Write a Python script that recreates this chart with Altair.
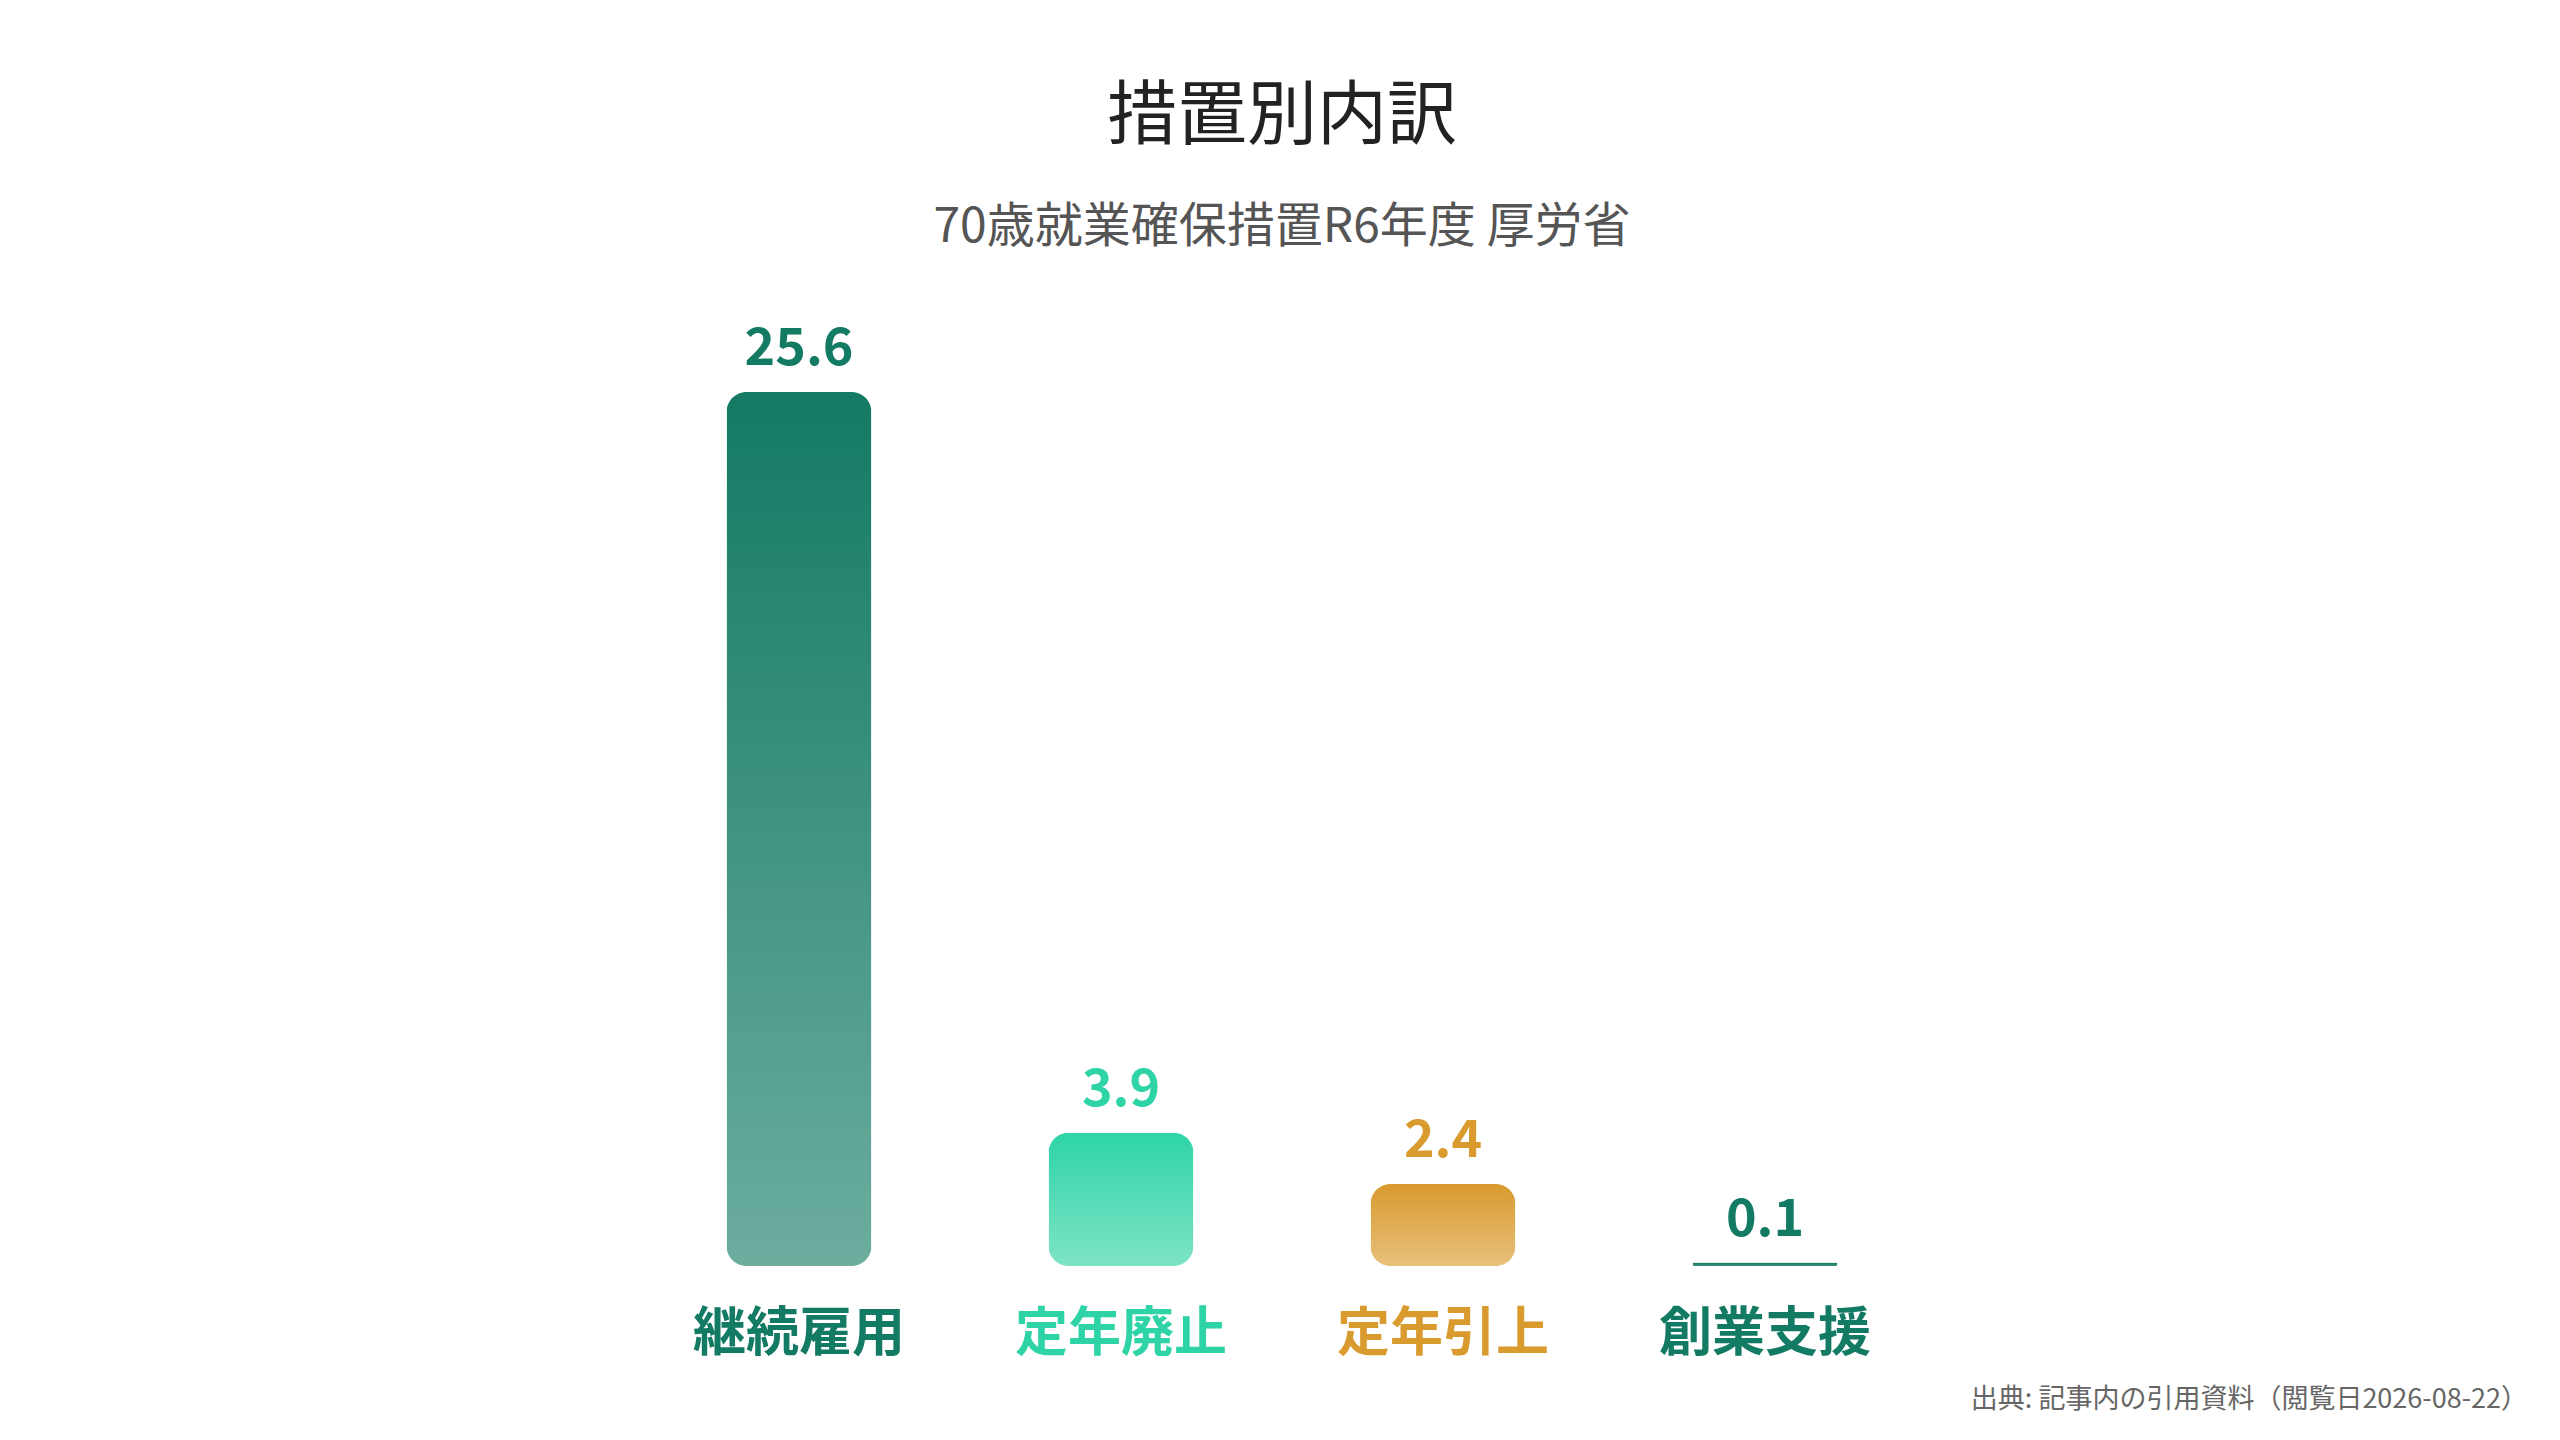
import altair as alt
import pandas as pd

categories = ["継続雇用", "定年廃止", "定年引上", "創業支援"]
values = [25.6, 3.9, 2.4, 0.1]
top_colors = ["#137a63", "#2ed4a6", "#d99a2e", "#137a63"]
bottom_colors = ["#6cad9e", "#7ee3c6", "#e7c07c", "#3f927f"]
label_colors = ["#137a63", "#2ed4a6", "#d99a2e", "#137a63"]
title_text = "措置別内訳"
subtitle_text = "70歳就業確保措置R6年度 厚労省"
footnote_text = "出典: 記事内の引用資料（閲覧日2026-08-22）"

FONT = "Noto Sans CJK JP"

df = pd.DataFrame({"category": categories, "value": values})

label_color_cond = {
    "condition": [
        {"test": f"datum.value === '{c}'", "value": col}
        for c, col in zip(categories, label_colors)
    ],
    "value": label_colors[0],
}

x_enc = alt.X(
    "category:N",
    sort=categories,
    scale=alt.Scale(domain=categories, paddingInner=0.55, paddingOuter=0.275),
    axis=alt.Axis(
        title=None,
        domain=False,
        ticks=False,
        tickSize=0,
        grid=False,
        labelAngle=0,
        labelFont=FONT,
        labelFontSize=53,
        labelFontWeight="bold",
        labelPadding=42,
        labelLimit=0,
        labelColor=label_color_cond,
        labelBaseline="top",
    ),
)
y_enc = alt.Y("value:Q", scale=alt.Scale(domain=[0, 28]), axis=None)

base = alt.Chart(df)

layers = []
for cat, tc, bc in zip(categories, top_colors, bottom_colors):
    grad = alt.Gradient(
        gradient="linear",
        stops=[alt.GradientStop(color=tc, offset=0), alt.GradientStop(color=bc, offset=1)],
        x1=0, x2=0, y1=0, y2=1,
    )
    layers.append(
        base.transform_filter(alt.datum.category == cat)
        .mark_bar(color=grad, cornerRadius=20)
        .encode(x=x_enc, y=y_enc)
    )

text_layer = base.mark_text(
    font=FONT, fontSize=52, fontWeight="bold", baseline="alphabetic", dy=-27
).encode(
    x=x_enc,
    y=y_enc,
    text=alt.Text("value:Q", format=".1f"),
    color=alt.Color("category:N", scale=alt.Scale(domain=categories, range=label_colors), legend=None),
)
layers.append(text_layer)

foot = alt.Chart(pd.DataFrame({"text": [footnote_text]})).mark_text(
    font=FONT, fontSize=27, color="#666666", align="right", baseline="middle"
).encode(x=alt.value(1890), y=alt.value(1090), text="text:N")
layers.append(foot)

chart = alt.layer(*layers).properties(
    width=1288,
    height=956,
    autosize=alt.AutoSizeParams(type="none"),
    padding={"left": 630, "right": 626, "top": 302, "bottom": 166},
    background="white",
    title=alt.TitleParams(
        text=title_text,
        subtitle=subtitle_text,
        anchor="middle",
        font=FONT,
        fontSize=70,
        fontWeight="normal",
        color="#222222",
        subtitleFont=FONT,
        subtitleFontSize=48,
        subtitleColor="#555555",
        subtitlePadding=50,
        offset=57,
    ),
).configure_view(stroke=None)

chart.save("out.html", embed_options={"renderer": "svg", "actions": False})
